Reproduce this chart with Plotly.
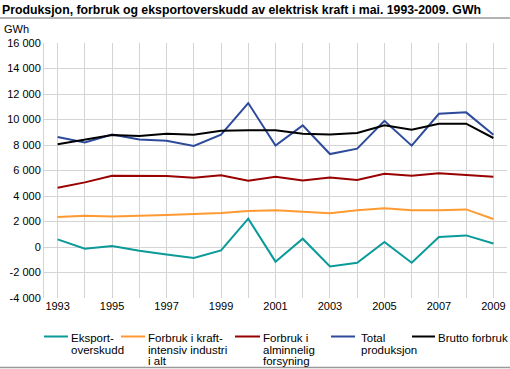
import plotly.graph_objects as go

years = list(range(1993, 2010))
eksport = [600, -130, 80, -290, -580, -865, -265, 2220, -1150, 650, -1520, -1230, 390, -1230, 785, 910, 280]
kraftintensiv = [2350, 2455, 2400, 2430, 2510, 2590, 2665, 2820, 2875, 2770, 2640, 2875, 3030, 2875, 2875, 2950, 2195]
alminnelig = [4650, 5070, 5590, 5570, 5570, 5435, 5620, 5200, 5510, 5225, 5460, 5250, 5750, 5590, 5775, 5645, 5510]
total = [8630, 8200, 8830, 8440, 8340, 7920, 8810, 11290, 7950, 9540, 7290, 7710, 9900, 7950, 10450, 10560, 8810]
brutto = [8050, 8390, 8780, 8700, 8890, 8810, 9120, 9150, 9150, 8890, 8830, 8940, 9540, 9200, 9670, 9670, 8550]

series_names = ["Eksport-\noverskudd", "Forbruk i kraft-\nintensiv industri\ni alt",
                "Forbruk i\nalminnelig\nforsyning", "Total\nproduksjon", "Brutto forbruk"]
series_values = [eksport, kraftintensiv, alminnelig, total, brutto]
colors = ["#0a9a9a", "#ff9a33", "#990000", "#2e4a9b", "#000000"]

y_ticks = list(range(-4000, 16001, 2000))
y_text = [("-" if v < 0 else "") + (f"{abs(v):,}".replace(",", " ")) for v in y_ticks]
x_text = [str(y) if y % 2 == 1 else "" for y in years]

W, H = 510, 369
L, R, T, B = 44, 3, 43, 71
pw = W - L - R
ph = H - T - B

def px_x(x):
    return (x - L) / pw

def px_y(y):
    return (H - B - y) / ph

FAM = "Liberation Sans"
font = dict(family=FAM, size=11, color="#000")
leg_font = dict(family=FAM, size=11.5, color="#000")

fig = go.Figure()
for name, vals, col in zip(series_names, series_values, colors):
    fig.add_trace(go.Scatter(x=years, y=vals, mode="lines", name=name.replace("\n", " "),
                             line=dict(color=col, width=2), showlegend=False))

fig.update_layout(
    width=W, height=H, autosize=False,
    margin=dict(l=L, r=R, t=T, b=B, autoexpand=False),
    paper_bgcolor="white", plot_bgcolor="white",
    font=font,
    title=dict(text="<b>Produksjon, forbruk og eksportoverskudd av elektrisk kraft i mai. 1993-2009. GWh</b>",
               x=2 / W, xanchor="left", xref="container",
               y=1 - 9.5 / H, yanchor="middle", yref="container",
               font=dict(family=FAM, size=12.3, color="#000")),
    xaxis=dict(range=[1992.5, 2009.5], tickvals=years, ticktext=x_text,
               showgrid=True, gridcolor="#d4d4d4", gridwidth=1,
               showline=False, zeroline=False, ticks="", tickfont=font),
    yaxis=dict(range=[-4000, 16000], tickvals=y_ticks, ticktext=y_text,
               showgrid=True, gridcolor="#d4d4d4", gridwidth=1,
               showline=True, linecolor="#d4d4d4", linewidth=1,
               zeroline=False, ticks="", tickfont=font),
    showlegend=False,
)

# Legend (drawn manually to match the tight line spacing of the original)
leg_lines = [(44, 68), (121, 145), (235, 260), (331, 355), (412, 435)]
leg_text_x = [70, 147, 262, 360, 437]
leg_row0, leg_row_gap = 338.5, 11.2
for (x0, x1), tx, name, col in zip(leg_lines, leg_text_x, series_names, colors):
    fig.add_shape(type="line", xref="paper", yref="paper",
                  x0=px_x(x0), x1=px_x(x1), y0=px_y(336.5), y1=px_y(336.5),
                  line=dict(color=col, width=2))
    for r, part in enumerate(name.split("\n")):
        fig.add_annotation(text=part, x=px_x(tx), y=px_y(leg_row0 + r * leg_row_gap),
                           xref="paper", yref="paper", xanchor="left", yanchor="middle",
                           showarrow=False, font=leg_font, borderpad=0)

fig.add_annotation(text="GWh", x=px_x(2), y=px_y(29), xref="paper", yref="paper",
                   xanchor="left", yanchor="middle", showarrow=False, font=font)
fig.add_shape(type="line", xref="paper", yref="paper", x0=px_x(0), x1=px_x(W),
              y0=px_y(18), y1=px_y(18), line=dict(color="#9a9a9a", width=1.5))
fig.add_shape(type="line", xref="paper", yref="paper", x0=px_x(0), x1=px_x(W),
              y0=px_y(367.5), y1=px_y(367.5), line=dict(color="#9a9a9a", width=1.5))

fig.write_html("out.html", config={"displayModeBar": False},
               post_script="document.body.style.margin='0px';")
